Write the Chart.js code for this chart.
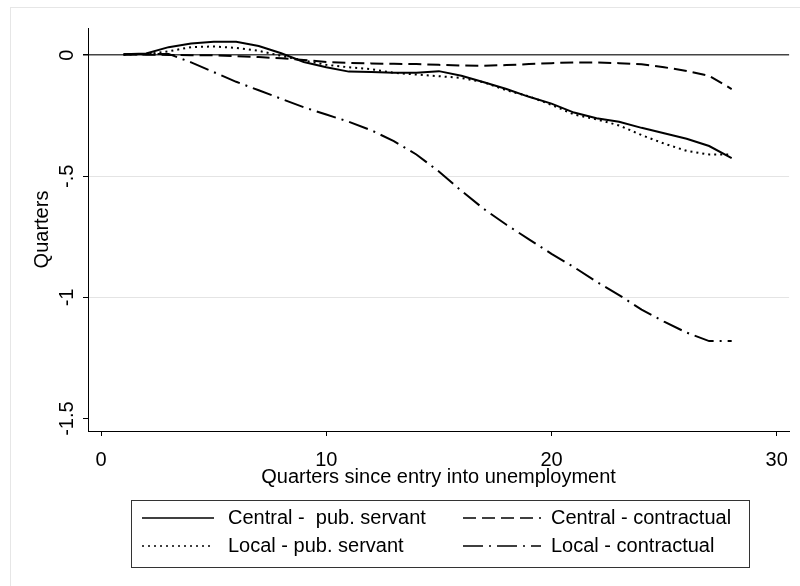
<!DOCTYPE html>
<html>
<head>
<meta charset="utf-8">
<script src="https://cdn.jsdelivr.net/npm/chart.js@4.4.1/dist/chart.umd.min.js"></script>
<style>
  html, body { margin: 0; padding: 0; background: #fff; }
  #chart { display: block; }
</style>
</head>
<body>
<canvas id="chart" width="800" height="586"></canvas>
<script>
// ── Data ──────────────────────────────────────────────────────────────────
const QUARTERS = [1,2,3,4,5,6,7,8,9,10,11,12,13,14,15,16,17,18,19,20,21,22,23,24,25,26,27,28];

const CENTRAL_PUB = [0.004, 0.007, 0.033, 0.048, 0.055, 0.055, 0.038, 0.008, -0.028, -0.050,
  -0.068, -0.070, -0.073, -0.073, -0.066, -0.085, -0.112, -0.140, -0.172, -0.200,
  -0.237, -0.260, -0.275, -0.300, -0.322, -0.345, -0.375, -0.425];
const LOCAL_PUB = [0.002, 0.004, 0.016, 0.033, 0.036, 0.030, 0.018, -0.003, -0.022, -0.040,
  -0.050, -0.058, -0.073, -0.080, -0.087, -0.094, -0.112, -0.145, -0.170, -0.205,
  -0.245, -0.265, -0.290, -0.330, -0.365, -0.395, -0.410, -0.410];
const CENTRAL_CON = [0.003, 0.002, 0.001, 0.000, -0.001, -0.004, -0.008, -0.013, -0.020, -0.028,
  -0.032, -0.034, -0.036, -0.037, -0.040, -0.043, -0.044, -0.041, -0.037, -0.033,
  -0.030, -0.030, -0.033, -0.038, -0.050, -0.065, -0.085, -0.140];
const LOCAL_CON = [0.003, 0.005, 0.005, -0.030, -0.070, -0.110, -0.145, -0.180, -0.215, -0.245,
  -0.275, -0.310, -0.355, -0.410, -0.480, -0.560, -0.635, -0.700, -0.760, -0.820,
  -0.875, -0.935, -0.990, -1.050, -1.100, -1.145, -1.180, -1.180];

const X_TICKS = [0, 10, 20, 30];
const Y_TICKS = [0, -0.5, -1, -1.5];

// ── Helpers ───────────────────────────────────────────────────────────────
const FONT = 'Liberation Sans, Arial, sans-serif';

function pts(vals) { return QUARTERS.map((q, i) => ({ x: q, y: vals[i] })); }
function stataLabel(v) { return v === 0 ? '0' : String(v).replace('0.', '.'); }

function series(label, vals, dash) {
  return {
    label: label,
    data: pts(vals),
    borderColor: '#000',
    borderWidth: 2,
    borderDash: dash,
    pointRadius: 0,
    tension: 0,
    fill: false,
  };
}

// frame + white page
const pagePlugin = {
  id: 'page',
  beforeDraw(chart) {
    const ctx = chart.ctx;
    ctx.save();
    ctx.fillStyle = '#fff';
    ctx.fillRect(0, 0, chart.width, chart.height);
    ctx.strokeStyle = '#e6e6e6';
    ctx.lineWidth = 1;
    ctx.strokeRect(10.5, 7.5, 790, 600);
    ctx.restore();
  }
};

// vertical y tick labels, Stata style
const yLabelPlugin = {
  id: 'yLabels',
  afterDraw(chart) {
    const ctx = chart.ctx;
    const y = chart.scales.y;
    ctx.save();
    ctx.fillStyle = '#000';
    ctx.font = '20px ' + FONT;
    ctx.textAlign = 'center';
    ctx.textBaseline = 'middle';
    Y_TICKS.forEach(v => {
      ctx.save();
      ctx.translate(67, y.getPixelForValue(v));
      ctx.rotate(-Math.PI / 2);
      ctx.fillText(stataLabel(v), 0, 0);
      ctx.restore();
    });
    ctx.restore();
  }
};

// boxed two-column legend
const legendPlugin = {
  id: 'boxLegend',
  afterDraw(chart) {
    const ctx = chart.ctx;
    const ds = chart.data.datasets;
    const box = { x: 131, y: 500, w: 618, h: 67 };
    const cols = [{ lx: 142, lw: 72, tx: 228 }, { lx: 463, lw: 78, tx: 551 }];
    const rows = [518, 546];
    const order = [[0, 0, 0], [1, 0, 1], [2, 1, 0], [3, 1, 1]]; // dataset, row, col
    ctx.save();
    ctx.strokeStyle = '#333';
    ctx.lineWidth = 1;
    ctx.strokeRect(box.x + 0.5, box.y + 0.5, box.w, box.h);
    ctx.font = '20px ' + FONT;
    ctx.fillStyle = '#000';
    ctx.textBaseline = 'middle';
    order.forEach(([i, r, c]) => {
      const d = ds[i], col = cols[c], yy = rows[r];
      ctx.beginPath();
      ctx.setLineDash(d.borderDash || []);
      ctx.lineWidth = 1.5;
      ctx.strokeStyle = '#000';
      ctx.moveTo(col.lx, yy);
      ctx.lineTo(col.lx + col.lw, yy);
      ctx.stroke();
      ctx.setLineDash([]);
      ctx.fillText(d.label, col.tx, yy);
    });
    ctx.restore();
  }
};

// ── Chart ─────────────────────────────────────────────────────────────────
new Chart(document.getElementById('chart'), {
  type: 'line',
  data: {
    datasets: [
      series('Central -  pub. servant', CENTRAL_PUB, []),
      series('Central - contractual', CENTRAL_CON, [13, 6]),
      series('Local - pub. servant', LOCAL_PUB, [2, 4]),
      series('Local - contractual', LOCAL_CON, [20, 6, 2, 6]),
    ]
  },
  options: {
    responsive: false,
    animation: false,
    layout: { padding: { left: 0, top: 28, right: 9, bottom: 96 } },
    plugins: { legend: { display: false }, tooltip: { enabled: false } },
    scales: {
      x: {
        type: 'linear',
        min: -0.58,
        max: 30.55,
        afterBuildTicks: s => { s.ticks = X_TICKS.map(v => ({ value: v })); },
        afterFit: s => { s.height = 59; },
        border: { display: true, color: '#000', width: 1 },
        grid: { drawOnChartArea: false, tickLength: 5, color: '#000' },
        ticks: { color: '#000', font: { family: FONT, size: 20 }, padding: 12, maxRotation: 0 },
        title: {
          display: true, text: 'Quarters since entry into unemployment', color: '#000',
          font: { family: FONT, size: 20 }, padding: { top: 0, bottom: 1 }
        }
      },
      y: {
        min: -1.551,
        max: 0.112,
        afterBuildTicks: s => { s.ticks = Y_TICKS.map(v => ({ value: v })); },
        afterFit: s => { s.width = 88; },
        border: { display: true, color: '#000', width: 1 },
        grid: {
          tickLength: 5,
          tickColor: '#000',
          color: c => c.tick && c.tick.value === 0 ? '#444' : (c.tick && c.tick.value === -1.5 ? 'rgba(0,0,0,0)' : '#e4e4e4'),
          lineWidth: c => c.tick && c.tick.value === 0 ? 1.5 : 1
        },
        ticks: { display: false },
        title: {
          display: true, text: 'Quarters', color: '#000',
          font: { family: FONT, size: 20 }, padding: { top: 30, bottom: 0 }
        }
      }
    }
  },
  plugins: [pagePlugin, yLabelPlugin, legendPlugin]
});
</script>
</body>
</html>
